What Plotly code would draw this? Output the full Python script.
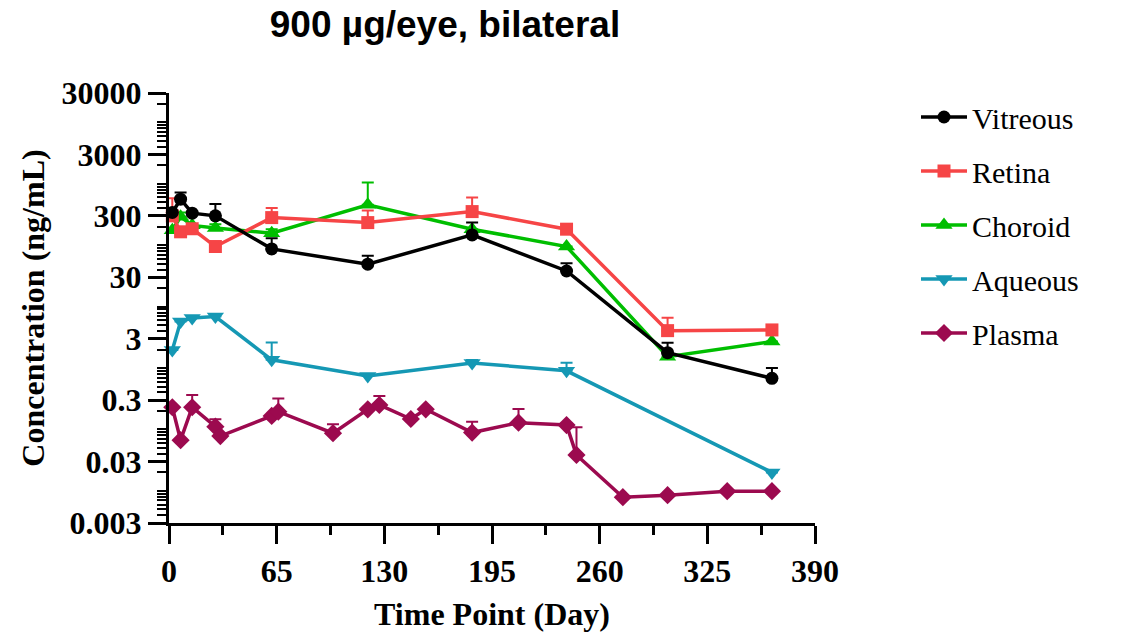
import math
import plotly.graph_objects as go

# ---------------- data ----------------
ocular_days = [2, 7, 14, 28, 62, 120, 183, 240, 301, 364]

vitreous = [340, 560, 332, 300, 87, 49, 147, 38, 1.78, 0.68]
vitreous_sd = [None, 160, None, 170, 43, 18, 86, 13, 0.8, 0.32]

retina = [300, 165, 185, 95, 281, 233, 352, 182, 4.06, 4.17]
retina_sd = [280, None, None, None, 120, 133, 244, None, 2.5, None]

choroid = [175, 290, 210, 190, 157, 453, 182, 95, 1.53, 2.69]
choroid_sd = [None, 50, None, 30, 25, 594, None, None, None, None]

aqueous_days = [2, 7, 14, 28, 62, 120, 183, 240, 364]
aqueous = [1.97, 5.7, 6.5, 6.9, 1.36, 0.74, 1.21, 0.9, 0.020]
aqueous_sd = [None, None, None, None, 1.24, None, 0.14, 0.32, None]

plasma_days = [2, 7, 14, 28, 31, 62, 66, 99, 120, 127, 146, 155, 183, 211,
               240, 246, 274, 301, 337, 364]
plasma = [0.23, 0.067, 0.23, 0.111, 0.078, 0.166, 0.195, 0.087, 0.213, 0.25,
          0.148, 0.213, 0.089, 0.129, 0.118, 0.0385, 0.0079, 0.0085, 0.0099, 0.0099]
plasma_sd = [None, None, 0.135, 0.036, None, None, 0.125, 0.034, None, 0.10,
             None, None, 0.045, 0.087, None, 0.07, None, None, None, None]

x_ticks = [0, 65, 130, 195, 260, 325, 390]
y_ticks = [0.003, 0.03, 0.3, 3, 30, 300, 3000, 30000]
y_ticktext = ["0.003", "0.03", "0.3", "3", "30", "300", "3000", "30000"]

series = [
    ("Vitreous", ocular_days, vitreous, vitreous_sd, "#000000", "circle", 13),
    ("Retina", ocular_days, retina, retina_sd, "#F64546", "square", 13),
    ("Choroid", ocular_days, choroid, choroid_sd, "#00BE00", "triangle-up", 15),
    ("Aqueous", aqueous_days, aqueous, aqueous_sd, "#1598B4", "triangle-down", 15),
    ("Plasma", plasma_days, plasma, plasma_sd, "#9C0A4F", "diamond", 14),
]

serif = "Liberation Serif, Times New Roman, serif"

fig = go.Figure()
# draw bottom series first so Vitreous ends on top
for rank, (name, xs, ys, sd, color, sym, msize) in reversed(list(enumerate(series))):
    fig.add_trace(go.Scatter(
        x=xs, y=ys,
        name="<span style='font-family:Liberation Serif, Times New Roman, serif'>"
             + name + "</span>",
        mode="lines+markers", legendgroup=name,
        legendrank=rank + 1,
        line=dict(color=color, width=3.5),
        marker=dict(symbol=sym, size=msize, color=color),
        error_y=dict(type="data", symmetric=False, array=sd,
                     arrayminus=[0] * len(sd), color=color,
                     thickness=2, width=6),
        cliponaxis=False,
    ))

y_minor = []
for n in range(-3, 5):
    for k in range(1, 10):
        v = k * 10 ** n
        if 0.003 <= v <= 30000 and k != 3:
            y_minor.append(v)

x_minor = [32.5 + 65 * i for i in range(6)]

fig.update_layout(
    width=1125, height=635,
    paper_bgcolor="white", plot_bgcolor="white",
    font=dict(family=serif, color="black"),
    margin=dict(l=169, r=310, t=93, b=112),
    title=dict(text="<b>900 µg/eye, bilateral</b>",
               font=dict(family="Liberation Sans, Arial, sans-serif", size=37,
                         color="black"),
               x=445 / 1125, xanchor="center", xref="container",
               y=1 - 24 / 635, yanchor="middle", yref="container"),
    showlegend=True,
    legend=dict(x=(916 - 169) / 646, xanchor="left", y=1.0 - (91 - 93) / 430,
                yanchor="top", traceorder="grouped",
                tracegroupgap=12, itemwidth=46,
                font=dict(family=serif, size=30, color="black"),
                bgcolor="rgba(0,0,0,0)"),
    xaxis=dict(range=[0, 390], tickmode="array", tickvals=x_ticks,
               ticktext=[str(t) for t in x_ticks], automargin=False,
               ticks="outside", ticklen=18, tickwidth=3, tickcolor="black",
               showline=True, linewidth=3, linecolor="black",
               showgrid=False, zeroline=False,
               minor=dict(tickmode="array", tickvals=x_minor, ticks="outside",
                          ticklen=9, tickwidth=3, tickcolor="black", showgrid=False),
               tickfont=dict(family=serif, size=32, color="black", weight="bold"),
               title=dict(text="Time Point (Day)", standoff=15,
                          font=dict(family=serif, size=32, color="black",
                                    weight="bold"))),
    yaxis=dict(type="log", range=[math.log10(0.003), math.log10(30000)],
               tickmode="array", tickvals=y_ticks, ticktext=y_ticktext,
               automargin=False,
               ticks="outside", ticklen=18, tickwidth=3, tickcolor="black",
               showline=True, linewidth=3, linecolor="black",
               showgrid=False, zeroline=False,
               minor=dict(tickmode="array", tickvals=y_minor, ticks="outside",
                          ticklen=9, tickwidth=2, tickcolor="black", showgrid=False),
               tickfont=dict(family=serif, size=32, color="black", weight="bold"),
               title=dict(text="Concentration (ng/mL)", standoff=8,
                          font=dict(family=serif, size=32, color="black",
                                    weight="bold"))),
)

fig.write_html("out.html")
